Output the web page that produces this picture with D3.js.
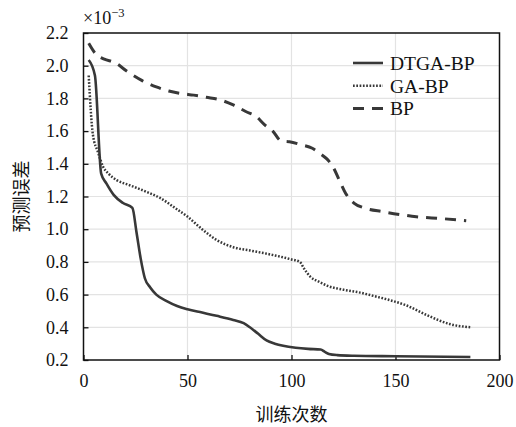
<!DOCTYPE html>
<html>
<head>
<meta charset="utf-8">
<script src="https://cdn.jsdelivr.net/npm/d3@7"></script>
<style>
  body { margin: 0; background: #fff; }
  text { font-family: "Liberation Serif", "Times New Roman", serif; fill: #111; }
  .cjk { font-family: "Noto Sans CJK SC", sans-serif; }
</style>
</head>
<body>
<div id="chart"></div>
<script>
// training iterations and prediction error (x 1e-3)
const dtgaX = [2.5, 5.5, 8.5, 11, 14.5, 19, 23.5, 25.5, 27.5, 29.5, 32, 35, 40, 45, 50, 57, 64, 72, 77, 80, 84, 88, 92, 96, 102, 108, 114, 116, 118, 122, 130, 150, 186];
const dtgaY = [2.035, 1.94, 1.34, 1.28, 1.21, 1.16, 1.13, 0.98, 0.82, 0.70, 0.645, 0.60, 0.56, 0.53, 0.51, 0.49, 0.47, 0.445, 0.425, 0.40, 0.36, 0.32, 0.30, 0.287, 0.275, 0.268, 0.264, 0.25, 0.237, 0.23, 0.226, 0.223, 0.218];

const gaX = [2.5, 4.5, 7, 9.5, 12, 16, 22, 30, 37, 44, 50, 57, 64, 72, 80, 90, 100, 104, 106, 109, 113, 117, 125, 133, 140, 147, 155, 165, 176, 186];
const gaY = [1.94, 1.58, 1.47, 1.38, 1.34, 1.30, 1.27, 1.23, 1.19, 1.13, 1.077, 1.0, 0.934, 0.89, 0.87, 0.845, 0.815, 0.80, 0.76, 0.71, 0.68, 0.655, 0.63, 0.612, 0.59, 0.567, 0.535, 0.475, 0.42, 0.40];

const bpX = [2.5, 6, 10, 15, 21, 28, 35, 41, 47, 53, 59, 66, 72, 78, 83, 87, 91, 95, 99, 105, 110, 114, 117, 120, 123, 126, 130, 135, 144, 152, 160, 172, 184];
const bpY = [2.137, 2.07, 2.04, 2.02, 1.965, 1.91, 1.87, 1.845, 1.83, 1.82, 1.807, 1.79, 1.76, 1.72, 1.69, 1.64, 1.60, 1.54, 1.535, 1.515, 1.495, 1.46, 1.43, 1.38, 1.30, 1.22, 1.16, 1.13, 1.107, 1.09, 1.076, 1.065, 1.052];

const seriesNames = ["DTGA-BP", "GA-BP", "BP"];
const xTicks = [0, 50, 100, 150, 200];
const yTicks = [0.2, 0.4, 0.6, 0.8, 1.0, 1.2, 1.4, 1.6, 1.8, 2.0, 2.2];

const fullWidth = 516;
const fullHeight = 427;
const margin = { top: 33, right: 16.5, bottom: 67, left: 83.5 };
const width = fullWidth - margin.left - margin.right;
const height = fullHeight - margin.top - margin.bottom;

const serif = '"Liberation Serif", "Times New Roman", serif';
const lineColor = "#383838";
const styles = [
  { dash: null, w: 2.6 },
  { dash: "1.7,1.6", w: 2.5 },
  { dash: "11,8", w: 3 }
];

const svg = d3
  .select("#chart")
  .append("svg")
  .attr("width", fullWidth)
  .attr("height", fullHeight);

const g = svg.append("g").attr("transform", `translate(${margin.left}, ${margin.top})`);

const x = d3.scaleLinear().domain([0, 200]).range([0, width]);
const y = d3.scaleLinear().domain([0.2, 2.2]).range([height, 0]);

// grid
g.append("g")
  .selectAll("line")
  .data(yTicks.slice(1, -1))
  .enter()
  .append("line")
  .attr("x1", 0)
  .attr("x2", width)
  .attr("y1", d => y(d))
  .attr("y2", d => y(d))
  .style("stroke", "#e3e3e3")
  .style("stroke-width", 1.2);

g.append("g")
  .selectAll("line")
  .data(xTicks.slice(1, -1))
  .enter()
  .append("line")
  .attr("x1", d => x(d))
  .attr("x2", d => x(d))
  .attr("y1", 0)
  .attr("y2", height)
  .style("stroke", "#e3e3e3")
  .style("stroke-width", 1.2);

// axes
const xAxis = g
  .append("g")
  .attr("transform", `translate(0, ${height})`)
  .call(d3.axisBottom(x).tickValues(xTicks).tickSizeInner(-5).tickSizeOuter(0).tickPadding(14).tickFormat(d3.format("d")));

const yAxis = g
  .append("g")
  .call(d3.axisLeft(y).tickValues(yTicks).tickSizeInner(-5).tickSizeOuter(0).tickPadding(15).tickFormat(d3.format(".1f")));

[xAxis, yAxis].forEach(a => {
  a.attr("font-family", serif).attr("font-size", 18);
  a.select(".domain").remove();
  a.selectAll(".tick line").style("stroke", "#111").style("stroke-width", 1.3);
  a.selectAll(".tick text").style("font-family", serif).style("font-size", "18px").style("fill", "#111");
});

// curves
const line = d3
  .line()
  .x(d => x(d[0]))
  .y(d => y(d[1]))
  .curve(d3.curveMonotoneX);

const series = [
  d3.zip(dtgaX, dtgaY),
  d3.zip(gaX, gaY),
  d3.zip(bpX, bpY)
];

series.forEach((s, i) => {
  g.append("path")
    .datum(s)
    .attr("d", line)
    .style("fill", "none")
    .style("stroke", lineColor)
    .style("stroke-width", styles[i].w)
    .style("stroke-dasharray", styles[i].dash);
});

// frame
g.append("rect")
  .attr("width", width)
  .attr("height", height)
  .style("fill", "none")
  .style("stroke", "#111")
  .style("stroke-width", 1.5);

// legend
const legend = svg.append("g").attr("transform", "translate(353, 63)");
seriesNames.forEach((name, i) => {
  const row = legend.append("g").attr("transform", `translate(0, ${i * 22.8})`);
  row.append("line")
    .attr("x1", 0)
    .attr("x2", 30)
    .style("stroke", lineColor)
    .style("stroke-width", styles[i].w)
    .style("stroke-dasharray", styles[i].dash);
  row.append("text")
    .attr("x", 37)
    .attr("dy", "0.35em")
    .style("font-size", "19.5px")
    .text(name);
});

// multiplier label
const mult = svg.append("text").attr("x", 83).attr("y", 24).style("font-size", "18px");
mult.append("tspan").text("×10");
mult.append("tspan").attr("dy", -7).style("font-size", "12.5px").text("−3");

// axis titles
svg.append("text")
  .attr("class", "cjk")
  .attr("x", margin.left + width / 2)
  .attr("y", 421)
  .attr("text-anchor", "middle")
  .style("font-size", "18px")
  .text("训练次数");

svg.append("text")
  .attr("class", "cjk")
  .attr("transform", `translate(28, ${margin.top + height / 2}) rotate(-90)`)
  .attr("text-anchor", "middle")
  .style("font-size", "18px")
  .text("预测误差");
</script>
</body>
</html>
